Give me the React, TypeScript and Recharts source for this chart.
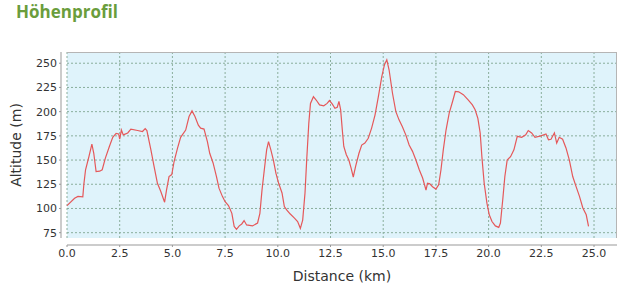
import { LineChart, Line, XAxis, YAxis, CartesianGrid } from "recharts";

const distances = [
  0, 0.36, 0.52, 0.75, 0.8, 0.88, 1.04, 1.18, 1.27, 1.38, 1.55, 1.67, 1.82, 2.01, 2.17, 2.33, 2.45, 2.5,
  2.58, 2.67, 2.88, 3.03, 3.35, 3.58, 3.71, 3.79, 3.98, 4.13, 4.29, 4.45, 4.63, 4.72, 4.84, 4.97, 5.08,
  5.24, 5.39, 5.63, 5.79, 5.93, 6.07, 6.23, 6.34, 6.5, 6.66, 6.77, 6.93, 7.09, 7.21, 7.37, 7.5, 7.66,
  7.82, 7.93, 8.04, 8.17, 8.29, 8.4, 8.52, 8.8, 9.04, 9.15, 9.25, 9.36, 9.47, 9.56, 9.67, 9.79, 9.91,
  10.04, 10.2, 10.31, 10.42, 10.58, 10.79, 10.94, 11.07, 11.18, 11.29, 11.37, 11.47, 11.55, 11.69,
  11.82, 11.98, 12.18, 12.34, 12.45, 12.58, 12.71, 12.82, 12.9, 12.98, 13.06, 13.13, 13.25, 13.37,
  13.48, 13.58, 13.69, 13.85, 13.98, 14.13, 14.29, 14.45, 14.61, 14.77, 14.93, 15.06, 15.17, 15.28,
  15.44, 15.6, 15.75, 15.91, 16.07, 16.23, 16.39, 16.55, 16.71, 16.87, 17.03, 17.1, 17.21, 17.34,
  17.5, 17.63, 17.74, 17.85, 17.98, 18.13, 18.29, 18.42, 18.58, 18.8, 19.04, 19.23, 19.36, 19.49,
  19.6, 19.68, 19.79, 19.92, 20.03, 20.16, 20.32, 20.48, 20.56, 20.67, 20.77, 20.88, 21.04, 21.2,
  21.36, 21.57, 21.76, 21.88, 22.04, 22.2, 22.48, 22.72, 22.84, 22.96, 23.12, 23.23, 23.35, 23.51,
  23.67, 23.83, 23.99, 24.15, 24.31, 24.47, 24.63, 24.74,
];

const altitudes = [
  103, 110.5, 112.5, 112, 125, 140, 153.5, 166.5, 157, 138, 138.5, 140, 152, 164, 173.5, 177.5, 177, 171.5,
  181, 176, 178, 182, 180.5, 179.5, 182.5, 180.5, 160.5, 143.5, 126, 117.5, 106.5, 119, 133, 135, 148.5,
  162, 173.5, 181, 195, 200.8, 195, 186, 183, 182, 169, 157, 147, 133, 121, 112.5, 107, 103,
  95, 81.5, 78.5, 82, 84, 87.5, 83, 82, 85, 95, 119, 140, 160.5, 169, 160.5, 150, 136.5,
  126, 116, 102, 98.5, 94.5, 90, 86.5, 79.5, 88, 116, 150, 188, 208.5, 215.5,
  212, 207, 206, 208.5, 211.5, 208, 203.5, 204.5, 210.5, 202, 181, 164, 155.5, 150,
  141.5, 132.5, 143.5, 157, 165.5, 167.5, 172.5, 183, 196.5, 215.5, 236, 248.5, 253.5, 243,
  219, 200, 191.5, 184.5, 176, 165.5, 159, 150, 140, 131.5, 119, 126, 125.5, 122.5,
  120, 124.5, 140, 160.5, 181, 198.5, 210.5, 220.8, 220.5, 217.5, 212, 207, 202, 193,
  178, 153.5, 126, 105.5, 93.5, 86.5, 82, 80.5, 85, 109, 133, 150, 153.5, 160.5,
  174.5, 173.5, 176, 180.5, 178, 173.5, 175, 177, 171, 171.5, 178, 167.5, 173.5, 171.5,
  162.5, 150, 133, 122.5, 112.5, 100.5, 93.5, 81.5,
];

const xTicks = [0, 2.5, 5, 7.5, 10, 12.5, 15, 17.5, 20, 22.5, 25];
const yTicks = [75, 100, 125, 150, 175, 200, 225, 250];
const xDomain = [0, 26.09];
const yDomain = [69.5, 261.6];

const data = distances.map((d, i) => ({ distance: d, altitude: altitudes[i] }));

const tickFont = { fontFamily: "DejaVu Sans", fontSize: 11, fill: "#333" };
const labelFont = { fontFamily: "DejaVu Sans", fontSize: 14, fill: "#333" };

// spacer axes keep their ticks but draw nothing
const EmptyTick = () => <g />;

// grid lines only at the tick values (no lines on the plot edges)
const hLines = ({ offset }: any) =>
  yTicks.map((t) => offset.top + ((yDomain[1] - t) / (yDomain[1] - yDomain[0])) * offset.height);
const vLines = ({ offset }: any) =>
  xTicks.map((t) => offset.left + ((t - xDomain[0]) / (xDomain[1] - xDomain[0])) * offset.width);

const AltLabel = () => (
  <text x={21} y={145} transform="rotate(-90 21 145)" textAnchor="middle" style={labelFont}>
    Altitude (m)
  </text>
);

const DistLabel = () => (
  <text x={342} y={281} textAnchor="middle" style={labelFont}>
    Distance (km)
  </text>
);

export default function App() {
  return (
    <div style={{ position: "absolute", left: 0, top: 0, width: 640, height: 297, background: "#fff" }}>
      <div
        style={{
          position: "absolute",
          left: 16,
          top: 0,
          fontFamily: "'Open Sans', sans-serif",
          fontWeight: 700,
          fontSize: 17,
          color: "#6a9d3c",
        }}
      >
        Höhenprofil
      </div>
      <LineChart
        width={640}
        height={297}
        data={data}
        margin={{ top: 52, right: 23, bottom: 0, left: 0 }}
      >
        <CartesianGrid
          fill="#dff3fb"
          stroke="#8aae9c"
          strokeDasharray="2 2"
          horizontalCoordinatesGenerator={hLines}
          verticalCoordinatesGenerator={vLines}
        />
        <XAxis
          type="number"
          dataKey="distance"
          domain={xDomain}
          ticks={xTicks}
          height={7}
          tick={EmptyTick}
          tickLine={false}
          axisLine={false}
        />
        <XAxis
          xAxisId="v"
          type="number"
          dataKey="distance"
          domain={xDomain}
          ticks={xTicks}
          height={52}
          tick={tickFont}
          tickFormatter={(v: number) => v.toFixed(1)}
          tickSize={2}
          tickLine={{ stroke: "#999" }}
          axisLine={{ stroke: "#999" }}
          label={<DistLabel />}
        />
        <YAxis
          type="number"
          dataKey="altitude"
          domain={yDomain}
          ticks={yTicks}
          width={6}
          tick={EmptyTick}
          tickLine={false}
          axisLine={false}
        />
        <YAxis
          yAxisId="v"
          type="number"
          dataKey="altitude"
          domain={yDomain}
          ticks={yTicks}
          width={61}
          tick={tickFont}
          tickSize={2}
          tickLine={{ stroke: "#999" }}
          axisLine={{ stroke: "#999" }}
          label={<AltLabel />}
        />
        <Line
          type="linear"
          dataKey="altitude"
          stroke="#e5585a"
          strokeWidth={1.2}
          dot={false}
          isAnimationActive={false}
        />
      </LineChart>
      <div
        style={{
          position: "absolute",
          left: 67,
          top: 52,
          width: 550,
          height: 186,
          boxSizing: "border-box",
          borderTop: "1px solid #b5b5b5",
          borderRight: "1px solid #b5b5b5",
          pointerEvents: "none",
        }}
      />
    </div>
  );
}
